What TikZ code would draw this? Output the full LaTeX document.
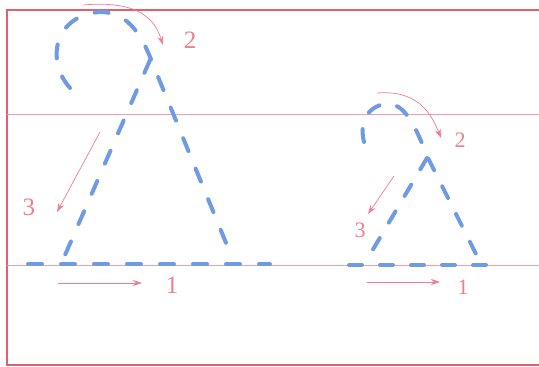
\documentclass[tikz,border=0pt]{standalone}
\usepackage{fontspec}
\setmainfont{Liberation Serif}
\usetikzlibrary{arrows.meta}
\definecolor{framered}{RGB}{225,95,110}
\definecolor{guidepink}{RGB}{240,160,170}
\definecolor{strokeblue}{RGB}{110,155,225}
\definecolor{hintpink}{RGB}{240,125,145}

\begin{document}
\begin{tikzpicture}[
  x=1pt, y=-1pt,
  frame/.style={draw=framered, line width=1.1pt},
  guide/.style={draw=guidepink, line width=0.5pt},
  stroke/.style={draw=strokeblue, line width=4pt, line cap=round, dash pattern=on 14pt off 19pt},
  hint/.style={draw=hintpink, line width=0.7pt, -{Stealth[length=9pt, width=6pt]}},
  num/.style={text=hintpink, font=\fontsize{25}{25}\selectfont, inner sep=0pt},
  numsmall/.style={num, font=\fontsize{22}{22}\selectfont},
]
\useasboundingbox (0,0) rectangle (539,367);

\draw[frame] (545,10) -- (7,10) -- (7,365) -- (545,365);
\draw[guide] (7,114) -- (545,114);
\draw[guide] (7,265) -- (545,265);

% big letter
\draw[stroke] (70,88) .. controls (45,60) and (55,15) .. (100,12) .. controls (125,12) and (140,30) .. (152,62) -- (233,260);
\draw[stroke] (150,60) -- (62,262);
\draw[stroke] (28,264) -- (270,264);

% small letter
\draw[stroke, dash pattern=on 13pt off 18pt] (364,142) .. controls (358,118) and (372,104) .. (388,104) .. controls (405,104) and (415,125) .. (428,158) -- (480,262);
\draw[stroke, dash pattern=on 13pt off 18pt] (427,158) -- (365,263);
\draw[stroke, dash pattern=on 13pt off 18pt] (349,265) -- (492,265);

% hints for the big letter
\coordinate (b2s) at (83,5);
\coordinate (b2e) at (163,45);
\coordinate (b3s) at (100,132);
\coordinate (b3e) at (57,212);
\coordinate (b1s) at (58,283);
\coordinate (b1e) at (142,283);
\node[num] (b2) at (190,40) {2};
\node[num] (b3) at (29,207) {3};
\node[num] (b1) at (172,285) {1};
\draw[hint] (b2s) .. controls (140,0) and (155,20) .. (b2e);
\draw[hint] (b3s) -- (b3e);
\draw[hint] (b1s) -- (b1e);

% hints for the small letter
\coordinate (s2s) at (377,93);
\coordinate (s2e) at (441,138);
\coordinate (s3s) at (394,176);
\coordinate (s3e) at (368,214);
\coordinate (s1s) at (367,282);
\coordinate (s1e) at (440,282);
\node[numsmall] (s2) at (460,140) {2};
\node[numsmall] (s3) at (360,230) {3};
\node[numsmall] (s1) at (463,287) {1};
\draw[hint] (s2s) .. controls (415,90) and (430,110) .. (s2e);
\draw[hint] (s3s) -- (s3e);
\draw[hint] (s1s) -- (s1e);
\end{tikzpicture}
\end{document}
